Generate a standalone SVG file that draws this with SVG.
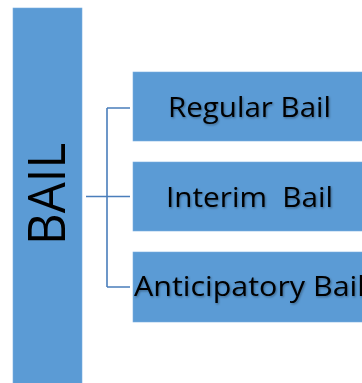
<svg xmlns="http://www.w3.org/2000/svg" width="362" height="383" viewBox="0 0 362 383">
  <defs>
    <filter id="sh" x="-10%" y="-30%" width="120%" height="160%">
      <feDropShadow dx="1" dy="1.2" stdDeviation="0.9" flood-color="#000" flood-opacity="0.35"/>
    </filter>
  </defs>
  <style>
    .box { fill: #5b9bd5; stroke: #7aaee0; stroke-width: 0.6; }
    .lbl { font-family: "Open Sans", "Liberation Sans", Arial, sans-serif; font-size: 27px; fill: #000; white-space: pre; }
    .sh { filter: url(#sh); }
    .conn { fill: none; stroke: #4a7ebb; stroke-width: 1.6; }
  </style>
  <rect width="362" height="383" fill="#fff"/>
  <g id="bail">
    <rect class="box" x="13" y="8" width="69" height="380"/>
    <text class="lbl" transform="translate(65,194) rotate(-90)" text-anchor="middle" style="font-size:52px" textLength="102" lengthAdjust="spacingAndGlyphs">BAIL</text>
  </g>
  <g id="connectors">
    <path class="conn" d="M86,196.5 H130 M107,108 V287 M107,108 H130 M107,287 H130"/>
  </g>
  <g id="regular">
    <rect class="box" x="133" y="72" width="235" height="69"/>
    <text class="lbl sh" x="168" y="117" textLength="163" lengthAdjust="spacingAndGlyphs">Regular Bail</text>
  </g>
  <g id="interim">
    <rect class="box" x="133" y="162" width="235" height="69"/>
    <text class="lbl sh" x="166" y="207" textLength="167" lengthAdjust="spacingAndGlyphs" xml:space="preserve">Interim  Bail</text>
  </g>
  <g id="anticipatory">
    <rect class="box" x="133" y="252" width="235" height="70"/>
    <text class="lbl sh" x="134" y="296" textLength="231" lengthAdjust="spacingAndGlyphs">Anticipatory Bail</text>
  </g>
</svg>
